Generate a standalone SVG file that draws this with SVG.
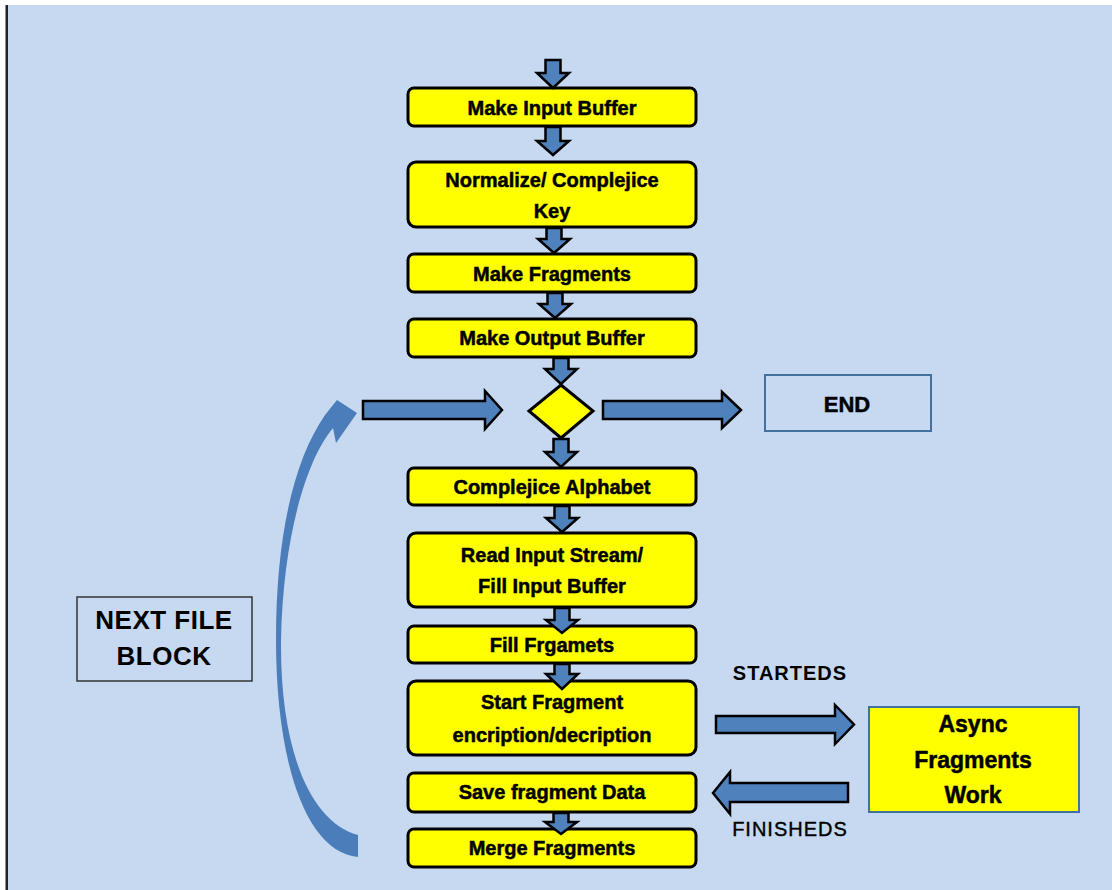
<svg xmlns="http://www.w3.org/2000/svg" width="1112" height="890" viewBox="0 0 1112 890">
<style>
.box{fill:#FFFF00;stroke:#000;stroke-width:3}
.t{font-family:"Liberation Sans",Arial,sans-serif;font-weight:bold;font-size:20px;fill:#000;stroke:#000;stroke-width:0.5;text-anchor:middle}
.arr{fill:#4F81BD;stroke:#000;stroke-width:2.5;stroke-linejoin:miter}
.lbl{font-family:"Liberation Sans",Arial,sans-serif;font-size:20px;fill:#000;text-anchor:middle}
</style>
<rect x="0" y="0" width="1112" height="890" fill="#FFFFFF"/>
<rect x="8" y="5" width="1104" height="885" fill="#C6D9F0"/>
<rect x="5.5" y="5" width="2.5" height="885" fill="#222"/>

<g id="n1"><rect class="box" x="408" y="88" width="288" height="38" rx="6"/><text class="t" x="552" y="115">Make Input Buffer</text></g>
<g id="n2"><rect class="box" x="408" y="162" width="288" height="65" rx="8"/><text class="t" x="552" y="187">Normalize/ Complejice</text><text class="t" x="552" y="218">Key</text></g>
<g id="n3"><rect class="box" x="408" y="254" width="288" height="38" rx="6"/><text class="t" x="552" y="281">Make Fragments</text></g>
<g id="n4"><rect class="box" x="408" y="319" width="288" height="38" rx="6"/><text class="t" x="552" y="345">Make Output  Buffer</text></g>
<g id="decision"><polygon points="561,385 593,411 561,438 529,411" fill="#FFFF00" stroke="#000" stroke-width="3"/></g>
<g id="end"><rect x="765" y="375" width="166" height="56" fill="#C6D9F0" stroke="#41719C" stroke-width="2"/><text class="t" x="847" y="412" style="font-size:22px">END</text></g>
<g id="n5"><rect class="box" x="408" y="468" width="288" height="37" rx="6"/><text class="t" x="552" y="494">Complejice  Alphabet</text></g>
<g id="n6"><rect class="box" x="408" y="533" width="288" height="74" rx="8"/><text class="t" x="552" y="562">Read Input  Stream/</text><text class="t" x="552" y="593">Fill Input  Buffer</text></g>
<g id="n7"><rect class="box" x="408" y="626" width="288" height="37" rx="6"/><text class="t" x="552" y="652">Fill Frgamets</text></g>
<g id="n8"><rect class="box" x="408" y="681" width="288" height="74" rx="8"/><text class="t" x="552" y="709">Start Fragment</text><text class="t" x="552" y="742">encription/decription</text></g>
<g id="n9"><rect class="box" x="408" y="773" width="288" height="39" rx="6"/><text class="t" x="552" y="799">Save fragment Data</text></g>
<g id="n10"><rect class="box" x="408" y="829" width="288" height="38" rx="6"/><text class="t" x="552" y="855">Merge Fragments</text></g>
<g id="async"><rect x="869" y="707" width="210" height="105" fill="#FFFF00" stroke="#41719C" stroke-width="2"/><text class="t" x="973" y="732" style="font-size:23px">Async</text><text class="t" x="973" y="768" style="font-size:23px">Fragments</text><text class="t" x="973" y="803" style="font-size:23px">Work</text></g>
<g id="nextfile"><rect x="77" y="597" width="175" height="84" fill="#C6D9F0" stroke="#333" stroke-width="1.5"/><text class="lbl" x="164" y="629" style="font-size:26px;font-weight:bold;letter-spacing:0.5px">NEXT FILE</text><text class="lbl" x="164" y="665" style="font-size:26px;font-weight:bold;letter-spacing:0.5px">BLOCK</text></g>
<g id="labels"><text class="lbl" x="790" y="680" style="font-weight:bold;letter-spacing:1px">STARTEDS</text><text class="lbl" x="790" y="836" style="letter-spacing:1px;stroke:#000;stroke-width:0.4">FINISHEDS</text></g>

<g id="connectors">
<path class="arr" d="M545.5,60 H560.5 V73 H569 L553,88 L537,73 H545.5 Z"/>
<path class="arr" d="M545.5,127 H560.5 V141 H569 L553,155 L537,141 H545.5 Z"/>
<path class="arr" d="M546.5,228 H561.5 V239 H570 L554,253 L538,239 H546.5 Z"/>
<path class="arr" d="M547.5,293 H562.5 V304 H571 L555,318 L539,304 H547.5 Z"/>
<path class="arr" d="M553.5,358 H568.5 V369 H577 L561,384 L545,369 H553.5 Z"/>
<path class="arr" d="M553.5,439 H568.5 V452 H577 L561,467 L545,452 H553.5 Z"/>
<path class="arr" d="M554.5,506 H569.5 V518 H578 L562,532 L546,518 H554.5 Z"/>
<path class="arr" d="M554.5,608 H569.5 V620 H578 L562,633 L546,620 H554.5 Z"/>
<path class="arr" d="M554.5,664 H569.5 V674 H578 L562,689 L546,674 H554.5 Z"/>
<path class="arr" d="M553.5,813 H568.5 V822 H577 L561,834 L545,822 H553.5 Z"/>
<path class="arr" d="M363,401 H485 V391 L502,410 L485,429 V419 H363 Z"/>
<path class="arr" d="M603,401 H722 V392 L741,410 L722,428 V419 H603 Z"/>
<path class="arr" d="M716,716 H835 V705 L854,724.5 L835,744 V733 H716 Z"/>
<path class="arr" d="M848,783 H730 V772 L713,793 L730,814 V802 H848 Z"/>
<path d="M358,857 C305,852 276,760 276,640 C276,535 294,460 325,415 L337,400 L357,413 L336,443 L333,428 C306,460 283,538 281,640 C280,750 310,822 358,835 Z" fill="#4A7DBA"/>
</g>
</svg>
